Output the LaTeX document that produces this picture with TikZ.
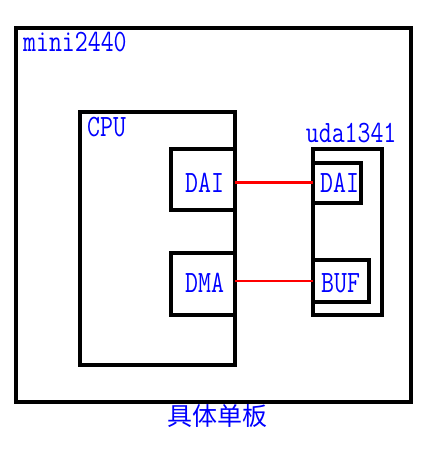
\documentclass[tikz,border=0pt]{standalone}
\usepackage{fontspec}
\newfontfamily\monofont[FakeStretch=0.81]{Latin Modern Mono}
\newfontfamily\cjkfont{Noto Sans CJK SC}
\begin{document}
\begin{tikzpicture}[x=1pt,y=-1pt,
  box/.style={draw=black,line width=4pt,rectangle,inner sep=0pt,outer sep=0pt},
  lbl/.style={text=blue,inner sep=0pt,anchor=base west,font=\monofont\fontsize{31}{31}\selectfont},
  link/.style={draw=red,line width=2.4pt}]
\useasboundingbox (0,0) rectangle (440,454);
\fill[white] (0,0) rectangle (440,454);
\node[box,minimum width=394.9pt,minimum height=373.7pt] (board) at (213.25,214.85) {};
\node[box,minimum width=154.2pt,minimum height=253pt] (cpu) at (157.4,238.5) {};
\node[box,minimum width=63.2pt,minimum height=61.6pt] (cpudai) at (202.9,179.5) {};
\node[box,minimum width=63.2pt,minimum height=62.3pt] (cpudma) at (202.9,284.15) {};
\node[box,minimum width=69.3pt,minimum height=166.6pt] (uda) at (347.35,232) {};
\node[box,minimum width=48.6pt,minimum height=40pt] (udadai) at (337,182.7) {};
\node[box,minimum width=56pt,minimum height=41.7pt] (buf) at (340.7,281.15) {};
\draw[link] (udadai.west) -- (udadai.west -| cpudai.east);
\draw[link] (buf.west) -- (buf.west -| cpudma.east);
\node[lbl] (tboard) at (23,52) {mini2440};
\node[lbl] (tcpu) at (87,137) {CPU};
\node[lbl] (tcpudai) at (185,193) {DAI};
\node[lbl] (tcpudma) at (185,292) {DMA};
\node[lbl] (tuda) at (305.7,143) {uda1341};
\node[lbl] (tudadai) at (320,193) {DAI};
\node[lbl] (tbuf) at (321,292) {BUF};
\node[text=blue,inner sep=0pt,font=\cjkfont\fontsize{25}{25}\selectfont] (tcaption) at (217,416.5) {具体单板};
\end{tikzpicture}
\end{document}
